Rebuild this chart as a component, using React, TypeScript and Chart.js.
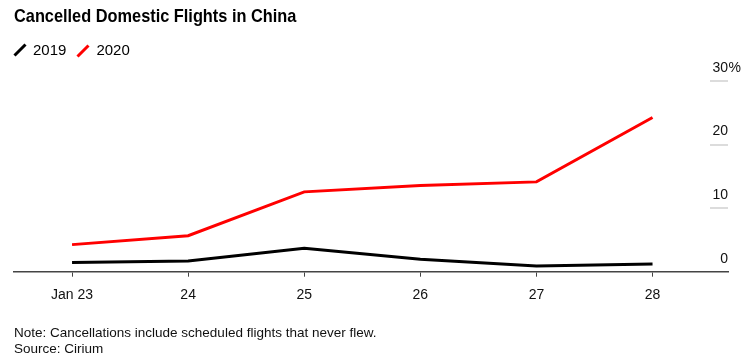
import React, { useEffect, useRef } from "react";
import { Chart, registerables } from "chart.js";

Chart.register(...registerables);

const categories = ["Jan 23", "24", "25", "26", "27", "28"];
const series2019 = [1.44, 1.69, 3.68, 1.96, 0.91, 1.22];
const series2020 = [4.26, 5.67, 12.56, 13.55, 14.13, 24.25];
const yTicks = [0, 10, 20, 30];

const TICK_FONT = "'Liberation Sans', Arial, sans-serif";

const shortGrid = {
  id: "shortGrid",
  afterDraw(chart: any) {
    const ys = chart.scales.y;
    const { ctx, chartArea } = chart;
    ctx.save();
    ctx.strokeStyle = "#dcdcdc";
    ctx.lineWidth = 2;
    yTicks.forEach((v) => {
      if (v === 0) return;
      const py = Math.round(ys.getPixelForValue(v));
      ctx.beginPath();
      ctx.moveTo(chartArea.right - 18, py);
      ctx.lineTo(chartArea.right, py);
      ctx.stroke();
    });
    const topV = yTicks[yTicks.length - 1];
    ctx.fillStyle = "#111";
    ctx.font = "14px " + TICK_FONT;
    ctx.textAlign = "left";
    ctx.textBaseline = "middle";
    ctx.fillText("%", chartArea.right + 0.5, ys.getPixelForValue(topV) - 13);
    ctx.restore();
  },
};

function ChartCanvas() {
  const ref = useRef<HTMLCanvasElement>(null);
  useEffect(() => {
    if (!ref.current) return;
    const chart = new Chart(ref.current, {
      type: "line",
      data: {
        datasets: [
          {
            label: "2019",
            data: series2019.map((v, i) => ({ x: i, y: v })),
            borderColor: "#000000",
            borderWidth: 3,
            pointRadius: 0,
            tension: 0,
          },
          {
            label: "2020",
            data: series2020.map((v, i) => ({ x: i, y: v })),
            borderColor: "#ff0000",
            borderWidth: 3,
            pointRadius: 0,
            tension: 0,
          },
        ],
      },
      options: {
        animation: false,
        responsive: false,
        maintainAspectRatio: false,
        layout: { padding: { left: 14, right: 17, top: 81, bottom: 50.5 } },
        plugins: { legend: { display: false }, tooltip: { enabled: false } },
        scales: {
          x: {
            type: "linear",
            min: -0.5,
            max: 5.65,
            afterBuildTicks: (scale: any) => {
              scale.ticks = categories.map((_, i) => ({ value: i }));
            },
            ticks: {
              callback: (v: any) => categories[v as number] ?? "",
              color: "#111",
              font: { family: TICK_FONT, size: 14 },
              padding: 10,
              maxRotation: 0,
              autoSkip: false,
            },
            grid: { display: true, drawOnChartArea: false, drawTicks: true, tickLength: 5, color: "#444", lineWidth: 1 },
            border: { display: true, color: "#444", width: 1.5 },
          },
          y: {
            position: "right",
            min: 0,
            max: 30,
            afterBuildTicks: (scale: any) => {
              scale.ticks = yTicks.map((v) => ({ value: v }));
            },
            ticks: {
              mirror: true,
              padding: 0,
              labelOffset: -13,
              callback: (v: any) => String(v),
              color: "#111",
              font: { family: TICK_FONT, size: 14 },
            },
            grid: { display: false },
            border: { display: false },
          },
        },
      },
      plugins: [shortGrid],
    });
    return () => chart.destroy();
  }, []);
  return <canvas ref={ref} width={753} height={364} style={{ position: "absolute", left: 0, top: 0 }} />;
}

function Slash({ color }: { color: string }) {
  return (
    <svg width="14" height="14" style={{ display: "inline-block", verticalAlign: "middle" }}>
      <line x1="1.5" y1="12.5" x2="12.5" y2="1.5" stroke={color} strokeWidth="3" />
    </svg>
  );
}

export default function App() {
  return (
    <div style={{ position: "relative", width: 753, height: 364, margin: -8, background: "#fff", fontFamily: "'Liberation Sans', Arial, sans-serif", overflow: "hidden" }}>
      <ChartCanvas />
      <div style={{ position: "absolute", left: 14, top: 5, fontSize: 19, fontWeight: 700, color: "#000", whiteSpace: "nowrap", transform: "scaleX(0.86)", transformOrigin: "left top" }}>
        Cancelled Domestic Flights in China
      </div>
      <div style={{ position: "absolute", left: 13, top: 41, fontSize: 15, color: "#000", display: "flex", alignItems: "center" }}>
        <Slash color="#000" />
        <span style={{ marginLeft: 6 }}>2019</span>
        <span style={{ marginLeft: 10 }}><Slash color="#ff0000" /></span>
        <span style={{ marginLeft: 6 }}>2020</span>
      </div>
      <div style={{ position: "absolute", left: 14, top: 325, fontSize: 13.5, lineHeight: "16px", color: "#111" }}>
        <div>Note: Cancellations include scheduled flights that never flew.</div>
        <div>Source: Cirium</div>
      </div>
    </div>
  );
}
